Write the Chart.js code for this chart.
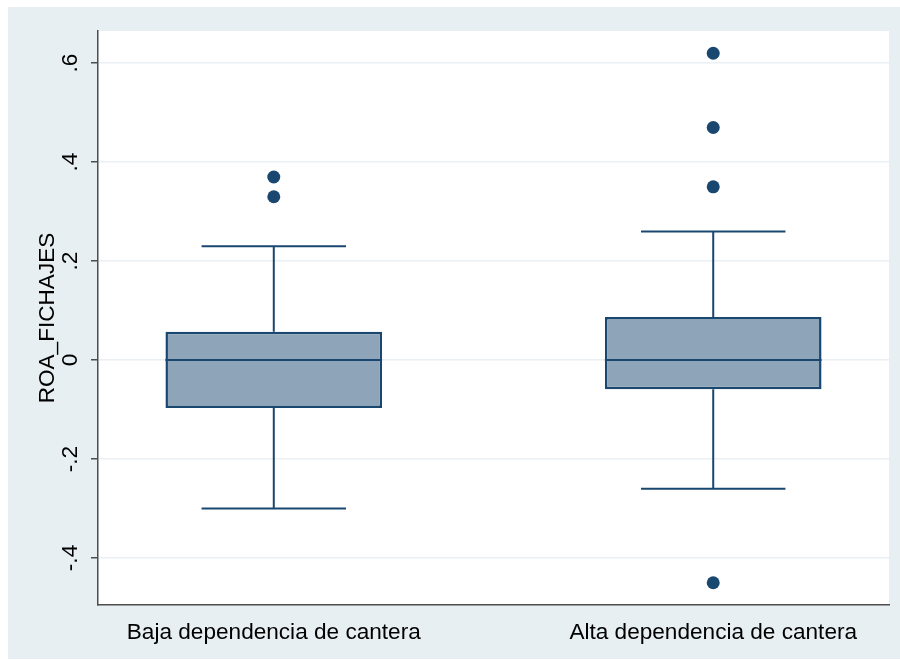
<!DOCTYPE html>
<html>
<head>
<meta charset="utf-8">
<script src="https://cdn.jsdelivr.net/npm/chart.js@4.4.1/dist/chart.umd.min.js"></script>
<style>
  html, body { margin: 0; padding: 0; background: #fff; }
  #wrap { position: absolute; left: 8px; top: 7px; width: 892px; height: 652px; background: #e8eff2; }
  canvas { display: block; }
</style>
</head>
<body>
<div id="wrap"><canvas id="c" width="892" height="652"></canvas></div>
<script>
// datos (box plot estilo Stata)
const categories = ['Baja dependencia de cantera', 'Alta dependencia de cantera'];
const positions = [0, 1];
const q1 = [-0.097, -0.059];
const medians = [0, 0];
const q3 = [0.057, 0.087];
const whiskerLow = [-0.30, -0.26];
const whiskerHigh = [0.23, 0.26];
const outliers = [
  [0.37, 0.33],
  [0.62, 0.47, 0.35, -0.45],
];
const yTicks = [-0.4, -0.2, 0, 0.2, 0.4, 0.6];
const yTickLabels = ['-.4', '-.2', '0', '.2', '.4', '.6'];

const NAVY = '#1a476f';
const FILL = '#8ea5b9';
const AXIS = '#4d4d4d';
const GRID = '#eaf0f3';
const FONT = '"Liberation Sans", Arial, sans-serif';
const FSIZE = 22.6;

const boxData = positions.map((x, i) => ({ x, y: [q1[i], q3[i]] }));
const outlierData = [];
outliers.forEach((arr, i) => arr.forEach((v) => outlierData.push({ x: positions[i], y: v })));

/* fondo blanco del área de trazado */
const plotBg = {
  id: 'plotBg',
  beforeDraw(chart) {
    const { ctx, chartArea: a } = chart;
    ctx.save();
    ctx.fillStyle = '#fff';
    ctx.fillRect(a.left, a.top, a.right - a.left, a.bottom - a.top);
    ctx.restore();
  },
};

/* bigotes y mediana, a partir de las escalas */
const whiskers = {
  id: 'whiskers',
  afterDatasetsDraw(chart) {
    const { ctx, scales: { x, y } } = chart;
    const meta = chart.getDatasetMeta(0);
    ctx.save();
    ctx.strokeStyle = NAVY;
    ctx.lineWidth = 2;
    positions.forEach((p, i) => {
      const el = meta.data[i];
      const cx = x.getPixelForValue(p);
      const half = el.width / 2;
      const cap = half * 2 / 3;
      ctx.beginPath();
      ctx.moveTo(cx, y.getPixelForValue(q3[i]));
      ctx.lineTo(cx, y.getPixelForValue(whiskerHigh[i]));
      ctx.moveTo(cx - cap, y.getPixelForValue(whiskerHigh[i]));
      ctx.lineTo(cx + cap, y.getPixelForValue(whiskerHigh[i]));
      ctx.moveTo(cx, y.getPixelForValue(q1[i]));
      ctx.lineTo(cx, y.getPixelForValue(whiskerLow[i]));
      ctx.moveTo(cx - cap, y.getPixelForValue(whiskerLow[i]));
      ctx.lineTo(cx + cap, y.getPixelForValue(whiskerLow[i]));
      ctx.moveTo(cx - half, y.getPixelForValue(medians[i]));
      ctx.lineTo(cx + half, y.getPixelForValue(medians[i]));
      ctx.stroke();
    });
    ctx.restore();
  },
};

/* etiquetas verticales del eje Y (rotadas como en Stata) */
const yLabels = {
  id: 'yLabels',
  afterDraw(chart) {
    const { ctx, scales: { y }, chartArea: a } = chart;
    ctx.save();
    ctx.fillStyle = '#000';
    ctx.font = FSIZE + 'px ' + FONT;
    ctx.textAlign = 'center';
    ctx.textBaseline = 'middle';
    yTicks.forEach((v, i) => {
      ctx.save();
      ctx.translate(a.left - 27, y.getPixelForValue(v));
      ctx.rotate(-Math.PI / 2);
      ctx.fillText(yTickLabels[i], 0, 0);
      ctx.restore();
    });
    ctx.restore();
  },
};

new Chart(document.getElementById('c'), {
  type: 'bar',
  data: {
    datasets: [
      {
        type: 'bar',
        data: boxData,
        backgroundColor: FILL,
        borderColor: NAVY,
        borderWidth: 2.5,
        borderSkipped: false,
        categoryPercentage: 1,
        barPercentage: 0.493,
      },
      {
        type: 'scatter',
        data: outlierData,
        backgroundColor: NAVY,
        borderColor: NAVY,
        pointRadius: 6.5,
        pointBorderWidth: 0,
      },
    ],
  },
  options: {
    responsive: false,
    animation: false,
    layout: { padding: { top: 24, right: 11, left: 0, bottom: 0 } },
    plugins: { legend: { display: false }, tooltip: { enabled: false } },
    scales: {
      x: {
        type: 'linear',
        min: -0.4,
        max: 1.4,
        offset: false,
        grid: { display: false },
        border: { display: true, color: AXIS, width: 1.5 },
        afterBuildTicks: (axis) => { axis.ticks = positions.map((v) => ({ value: v })); },
        afterFit: (axis) => { axis.height = 54; },
        ticks: {
          color: '#000',
          font: { family: FONT, size: FSIZE },
          padding: 6,
          maxRotation: 0,
          callback: (v) => categories[positions.indexOf(v)] ?? '',
        },
      },
      y: {
        min: -0.495,
        max: 0.665,
        afterBuildTicks: (axis) => { axis.ticks = yTicks.map((v) => ({ value: v })); },
        afterFit: (axis) => { axis.width = 90; },
        grid: { color: GRID, lineWidth: 1.5, tickColor: AXIS, tickLength: 7, tickWidth: 1.5 },
        border: { display: true, color: AXIS, width: 1.5 },
        ticks: { display: false },
        title: {
          display: true,
          text: 'ROA_FICHAJES',
          color: '#000',
          font: { family: FONT, size: FSIZE },
          padding: { top: 26, bottom: 0 },
        },
      },
    },
  },
  plugins: [plotBg, whiskers, yLabels],
});
</script>
</body>
</html>
